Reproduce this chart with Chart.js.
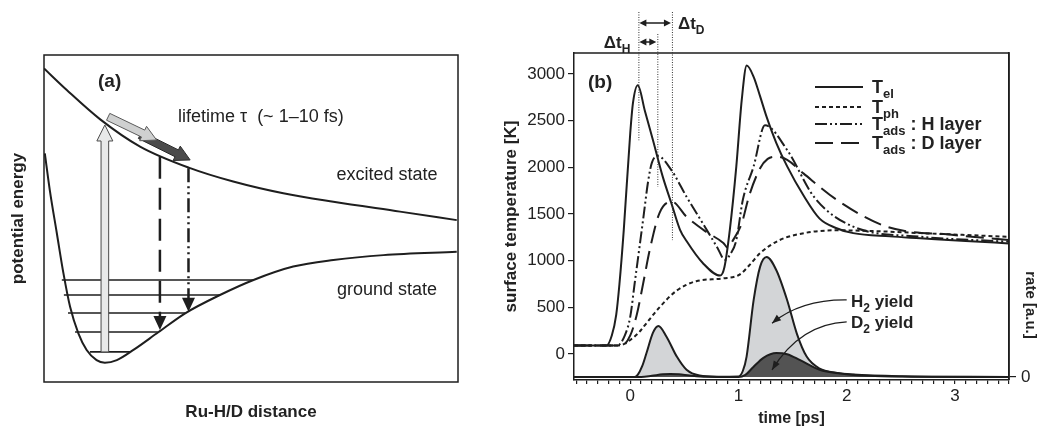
<!DOCTYPE html>
<html>
<head>
<meta charset="utf-8">
<script src="https://cdn.jsdelivr.net/npm/chart.js@4.4.0/dist/chart.umd.min.js"></script>
<style>
  html, body { margin: 0; padding: 0; background: #fff; }
  #wrap { position: relative; width: 1039px; height: 428px; overflow: hidden; }
  #pa { position: absolute; left: 0; top: 0; }
  #pb { position: absolute; left: 490px; top: 0; }
</style>
</head>
<body>
<div id="wrap">
  <canvas id="pa" width="490" height="428"></canvas>
  <canvas id="pb" width="549" height="428"></canvas>
</div>
<script>
const FONT = '"Liberation Sans", Arial, Helvetica, sans-serif';
const INK = '#1e1e1e';

// ---------- panel (a): potential energy schematic (arbitrary 0..100 units) ----------
const excitedX = [0, 5.5, 13.5, 23.2, 35.3, 45.7, 57.8, 69.9, 86.0, 99.7];
const excitedY = [95.9, 89.3, 80.4, 72.0, 65.4, 61.3, 57.7, 55.1, 52.1, 49.5];
const groundX = [0.2, 1.4, 3.1, 4.7, 6.3, 8.3, 10.3, 12.7, 14.7, 17.6, 21.6, 27.6, 34.1, 42.5, 50.6, 60.2, 69.9, 82.0, 99.7];
const groundY = [69.9, 58.7, 45.5, 33.2, 23.0, 14.9, 9.8, 6.7, 5.9, 6.7, 9.8, 15.2, 21.0, 26.6, 31.2, 35.3, 37.3, 38.8, 39.8];
const levelY = [31.2, 26.6, 21.1, 15.3, 9.2];
const levelLeft = [4.3, 4.8, 5.8, 7.5, 11.1];
const levelRight = [50.5, 42.5, 34.1, 27.5, 20.8];
const exciteX = 14.7, exciteFrom = 9.2, exciteTo = 78.6;
const glideGrey = [15.5, 81.1, 27.2, 74.0];
const glideDark = [23.2, 75.5, 35.3, 67.9];
const decayX = [28.0, 34.9];
const decayFrom = [68.9, 65.4];
const decayTo = [15.9, 21.5];

// ---------- panel (b): temperatures [K] and desorption rates [a.u.] vs time [ps] ----------
const tEl   = [-0.52, -0.22, -0.17, -0.13, -0.10, -0.06, 0.00, 0.025, 0.07, 0.134, 0.21, 0.30, 0.38, 0.46, 0.52, 0.67, 0.83, 0.87, 0.92, 0.98, 1.03, 1.076, 1.14, 1.20, 1.26, 1.35, 1.45, 1.60, 1.75, 1.90, 2.06, 2.40, 2.68, 3.10, 3.50];
const tempEl = [90, 90, 200, 420, 750, 1330, 2370, 2690, 2880, 2610, 2290, 1900, 1615, 1330, 1210, 975, 840, 930, 1330, 2010, 2720, 3090, 2970, 2760, 2540, 2260, 2010, 1700, 1450, 1350, 1295, 1260, 1240, 1210, 1185];
const tPh   = [-0.52, -0.12, -0.05, 0.00, 0.08, 0.15, 0.27, 0.43, 0.61, 0.86, 1.01, 1.10, 1.20, 1.38, 1.63, 1.91, 2.30, 2.68, 3.10, 3.50];
const tempPh = [90, 90, 110, 150, 230, 330, 500, 680, 780, 810, 850, 950, 1080, 1220, 1300, 1325, 1315, 1295, 1275, 1255];
const tH    = [-0.52, -0.12, -0.05, 0.00, 0.04, 0.08, 0.12, 0.165, 0.20, 0.255, 0.38, 0.52, 0.67, 0.80, 0.875, 0.93, 0.98, 1.04, 1.14, 1.245, 1.45, 1.70, 2.06, 2.68, 3.50];
const tempH = [90, 90, 200, 400, 750, 1100, 1450, 1850, 2050, 2120, 1970, 1685, 1400, 1150, 1010, 1080, 1220, 1650, 2010, 2450, 2185, 1680, 1364, 1257, 1203];
const tD    = [-0.52, -0.08, 0.00, 0.06, 0.12, 0.18, 0.27, 0.385, 0.52, 0.70, 0.86, 0.90, 0.95, 1.03, 1.10, 1.20, 1.27, 1.35, 1.45, 1.60, 1.91, 2.37, 2.99, 3.50];
const tempD = [90, 90, 200, 420, 760, 1115, 1510, 1632, 1470, 1310, 1190, 1140, 1220, 1400, 1700, 1990, 2090, 2114, 2080, 1935, 1650, 1364, 1275, 1220];
const tH2   = [-0.52, 0.04, 0.07, 0.11, 0.15, 0.21, 0.26, 0.335, 0.43, 0.52, 0.64, 0.80, 1.00, 1.04, 1.075, 1.14, 1.20, 1.26, 1.35, 1.45, 1.54, 1.63, 1.75, 1.90, 2.06, 2.50, 3.50];
const rateH2 = [0, 0, 0.02, 0.09, 0.2, 0.37, 0.425, 0.336, 0.17, 0.06, 0.012, 0.003, 0.005, 0.05, 0.17, 0.64, 0.92, 1.0, 0.89, 0.64, 0.36, 0.17, 0.07, 0.035, 0.02, 0.006, 0];
const tD2   = [-0.52, 0.10, 0.20, 0.30, 0.37, 0.45, 0.55, 0.70, 1.00, 1.06, 1.14, 1.23, 1.35, 1.45, 1.57, 1.75, 1.94, 2.20, 2.60, 3.50];
const rateD2 = [0, 0, 0.01, 0.022, 0.025, 0.022, 0.012, 0.002, 0, 0.015, 0.086, 0.16, 0.2, 0.19, 0.14, 0.06, 0.03, 0.01, 0.003, 0];
const tempTicks = [0, 500, 1000, 1500, 2000, 2500, 3000];
const timeLabels = [0, 1, 2, 3];
const peakTimes = [0.075, 0.25, 0.385];      // maxima of T_el, T_ads(H), T_ads(D)
const peakLineEnds = [2290, 1790, 1220];     // lower ends of the dotted markers [K]
const legendSubs = ['el', 'ph', 'ads', 'ads'];
const legendRest = ['', '', ' : H layer', ' : D layer'];
const yieldNames = ['H', 'D'];
const yieldLabelAt = [[2.04, 568], [2.04, 343]];               // [t, K]
const yieldArrows = [[2.0, 579, 1.58, 585, 1.31, 330],          // from, control, to
                     [2.0, 343, 1.57, 320, 1.31, -171]];

function xy(xs, ys) { return xs.map((v, i) => ({ x: v, y: ys[i] })); }

function blockArrow(ctx, x0, y0, x1, y1, w, hw, hl, fill, stroke) {
  const dx = x1 - x0, dy = y1 - y0, L = Math.hypot(dx, dy);
  const ux = dx / L, uy = dy / L, nx = -uy, ny = ux;
  const bx = x1 - ux * hl, by = y1 - uy * hl;
  ctx.beginPath();
  ctx.moveTo(x0 + nx * w, y0 + ny * w);
  ctx.lineTo(bx + nx * w, by + ny * w);
  ctx.lineTo(bx + nx * hw, by + ny * hw);
  ctx.lineTo(x1, y1);
  ctx.lineTo(bx - nx * hw, by - ny * hw);
  ctx.lineTo(bx - nx * w, by - ny * w);
  ctx.lineTo(x0 - nx * w, y0 - ny * w);
  ctx.closePath();
  ctx.fillStyle = fill; ctx.fill();
  ctx.strokeStyle = stroke; ctx.lineWidth = 1; ctx.stroke();
}

function head(ctx, x1, y1, ux, uy, hw, hl) {
  const bx = x1 - ux * hl, by = y1 - uy * hl;
  ctx.beginPath();
  ctx.moveTo(x1, y1);
  ctx.lineTo(bx - uy * hw, by + ux * hw);
  ctx.lineTo(bx + uy * hw, by - ux * hw);
  ctx.closePath();
  ctx.fill();
}

function subText(ctx, x, y, main, sub, rest, big, small) {
  ctx.textAlign = 'left';
  ctx.textBaseline = 'alphabetic';
  ctx.font = 'bold ' + big + 'px ' + FONT;
  ctx.fillText(main, x, y);
  x += ctx.measureText(main).width;
  ctx.font = 'bold ' + small + 'px ' + FONT;
  ctx.fillText(sub, x, y + big * 0.27);
  x += ctx.measureText(sub).width;
  if (rest) {
    ctx.font = 'bold ' + big + 'px ' + FONT;
    ctx.fillText(rest, x, y);
    x += ctx.measureText(rest).width;
  }
  return x;
}

// ---------- panel (a) ----------
const panelAExtras = {
  id: 'panelAExtras',
  afterDatasetsDraw(chart) {
    const { ctx, chartArea: a, scales: { x, y } } = chart;
    const px = v => x.getPixelForValue(v), py = v => y.getPixelForValue(v);
    ctx.save();
    ctx.strokeStyle = INK;
    ctx.lineWidth = 1.5;
    ctx.strokeRect(a.left, a.top, a.right - a.left, a.bottom - a.top);

    // vertical excitation
    blockArrow(ctx, px(exciteX), py(exciteFrom), px(exciteX), py(exciteTo), 3.8, 8, 16, '#e8e9e9', '#4a4a4a');
    // motion on the excited state
    blockArrow(ctx, px(glideDark[0]), py(glideDark[1]), px(glideDark[2]), py(glideDark[3]), 3.8, 8, 15, '#4b4b4b', '#2a2a2a');
    blockArrow(ctx, px(glideGrey[0]), py(glideGrey[1]), px(glideGrey[2]), py(glideGrey[3]), 3.8, 8, 15, '#cfd0d0', '#5a5a5a');

    // de-excitation (dashed = D, dash-dot-dot = H)
    const dashes = [[22, 9], [14, 4, 2, 4, 2, 4]];
    ctx.strokeStyle = INK;
    ctx.fillStyle = INK;
    ctx.lineWidth = 2.5;
    decayX.forEach((dx, i) => {
      const xx = px(dx), y0 = py(decayFrom[i]), y1 = py(decayTo[i]);
      ctx.setLineDash(dashes[i]);
      ctx.beginPath();
      ctx.moveTo(xx, y0);
      ctx.lineTo(xx, y1 - 12);
      ctx.stroke();
      ctx.setLineDash([]);
      head(ctx, xx, y1, 0, 1, 6.5, 14);
    });

    // labels
    ctx.fillStyle = '#222';
    ctx.textBaseline = 'middle';
    ctx.textAlign = 'left';
    ctx.font = 'bold 19px ' + FONT;
    ctx.fillText('(a)', a.left + 54, a.top + 27);
    ctx.font = '18px ' + FONT;
    ctx.fillText('lifetime \u03c4  (~ 1\u201310 fs)', a.left + 134, a.top + 62);
    ctx.textAlign = 'center';
    ctx.fillText('excited state', a.left + 343, a.top + 120);
    ctx.fillText('ground state', a.left + 343, a.top + 235);
    ctx.restore();
  }
};

const levelSets = levelY.map((lv, i) => ({
  data: [{ x: levelLeft[i], y: lv }, { x: levelRight[i], y: lv }],
  borderColor: INK, borderWidth: 1.6, pointRadius: 0, tension: 0
}));

new Chart(document.getElementById('pa'), {
  type: 'line',
  data: {
    datasets: [
      { data: xy(excitedX, excitedY), borderColor: INK, borderWidth: 2, pointRadius: 0, cubicInterpolationMode: 'monotone' },
      { data: xy(groundX, groundY), borderColor: INK, borderWidth: 2, pointRadius: 0, cubicInterpolationMode: 'monotone' },
      ...levelSets
    ]
  },
  options: {
    responsive: false,
    animation: false,
    devicePixelRatio: 1,
    layout: { padding: { top: 55, right: 32, left: 0, bottom: 0 } },
    plugins: { legend: { display: false }, tooltip: { enabled: false } },
    scales: {
      x: {
        type: 'linear', min: 0, max: 100,
        afterFit(s) { s.height = 46; },
        ticks: { display: false }, grid: { display: false }, border: { display: false },
        title: { display: true, text: 'Ru-H/D distance', color: '#222', font: { family: FONT, size: 17, weight: 'bold' }, padding: { top: 0, bottom: 5 } }
      },
      y: {
        min: 0, max: 100,
        afterFit(s) { s.width = 44; },
        ticks: { display: false }, grid: { display: false }, border: { display: false },
        title: { display: true, text: 'potential energy', color: '#222', font: { family: FONT, size: 17, weight: 'bold' }, padding: { top: 8, bottom: 0 } }
      }
    }
  },
  plugins: [panelAExtras]
});

// ---------- panel (b) ----------
const panelBExtras = {
  id: 'panelBExtras',
  afterDraw(chart) {
    const { ctx, chartArea: a, scales: { x, y } } = chart;
    const px = v => x.getPixelForValue(v), py = v => y.getPixelForValue(v);
    ctx.save();
    ctx.strokeStyle = INK;
    ctx.lineWidth = 1.5;
    ctx.beginPath();
    ctx.moveTo(a.left, a.top);
    ctx.lineTo(a.right, a.top);
    ctx.lineTo(a.right, a.bottom);
    ctx.stroke();

    ctx.fillStyle = '#222';
    ctx.font = 'bold 19px ' + FONT;
    ctx.textBaseline = 'middle';
    ctx.textAlign = 'left';
    ctx.fillText('(b)', a.left + 14, a.top + 30);

    // legend
    const dashes = [[], [4, 3], [12, 3, 2, 3, 2, 3], [18, 8]];
    const rows = [34, 54, 71, 90];
    rows.forEach((r, i) => {
      ctx.setLineDash(dashes[i]);
      ctx.lineWidth = 2;
      ctx.beginPath();
      ctx.moveTo(a.left + 241, a.top + r);
      ctx.lineTo(a.left + 289, a.top + r);
      ctx.stroke();
      ctx.setLineDash([]);
      subText(ctx, a.left + 298, a.top + r + 6, 'T', legendSubs[i], legendRest[i], 18, 13);
    });

    // yield labels with curved pointers
    yieldNames.forEach((nm, i) => {
      subText(ctx, px(yieldLabelAt[i][0]), py(yieldLabelAt[i][1]) + 6, nm, '2', ' yield', 17, 12);
      const q = yieldArrows[i];
      const x0 = px(q[0]), y0 = py(q[1]), cx = px(q[2]), cy = py(q[3]), x1 = px(q[4]), y1 = py(q[5]);
      ctx.lineWidth = 1.2;
      ctx.beginPath();
      ctx.moveTo(x0, y0);
      ctx.quadraticCurveTo(cx, cy, x1, y1);
      ctx.stroke();
      const L = Math.hypot(x1 - cx, y1 - cy);
      ctx.fillStyle = INK;
      head(ctx, x1, y1, (x1 - cx) / L, (y1 - cy) / L, 3.5, 9);
      ctx.fillStyle = '#222';
    });

    // peak markers and delays
    const tops = [a.top - 41, a.top - 19, a.top - 41];
    ctx.strokeStyle = '#333';
    ctx.lineWidth = 1;
    ctx.setLineDash([1, 1.5]);
    peakTimes.forEach((t, i) => {
      ctx.beginPath();
      ctx.moveTo(px(t) + 0.5, tops[i]);
      ctx.lineTo(px(t) + 0.5, py(peakLineEnds[i]));
      ctx.stroke();
    });
    ctx.setLineDash([]);
    ctx.strokeStyle = INK;
    ctx.fillStyle = INK;
    ctx.lineWidth = 1.5;
    const dbl = (xa, xb, yy) => {
      ctx.beginPath();
      ctx.moveTo(xa + 5, yy);
      ctx.lineTo(xb - 5, yy);
      ctx.stroke();
      head(ctx, xa + 1, yy, -1, 0, 3.5, 7);
      head(ctx, xb - 1, yy, 1, 0, 3.5, 7);
    };
    dbl(px(peakTimes[0]), px(peakTimes[2]), a.top - 30);
    dbl(px(peakTimes[0]), px(peakTimes[1]), a.top - 11);
    ctx.fillStyle = '#222';
    subText(ctx, px(peakTimes[2]) + 6, a.top - 24, '\u0394t', 'D', '', 17, 12);
    ctx.font = 'bold 17px ' + FONT;
    const wH = ctx.measureText('\u0394t').width;
    ctx.font = 'bold 12px ' + FONT;
    const wS = ctx.measureText('H').width;
    subText(ctx, px(peakTimes[0]) - 8 - wH - wS, a.top - 5, '\u0394t', 'H', '', 17, 12);

    // right axis title
    ctx.save();
    ctx.translate(a.right + 21, a.bottom - 75);
    ctx.rotate(Math.PI / 2);
    ctx.font = 'bold 15px ' + FONT;
    ctx.textAlign = 'center';
    ctx.textBaseline = 'middle';
    ctx.fillText('rate [a.u.]', 0, 0);
    ctx.restore();
    ctx.restore();
  }
};

const tickFont = { family: FONT, size: 17 };
const minorTimes = Array.from({ length: 41 }, (_, k) => (k - 5) / 10);

new Chart(document.getElementById('pb'), {
  type: 'line',
  data: {
    datasets: [
      { label: 'T_el', data: xy(tEl, tempEl), borderColor: INK, borderWidth: 2, pointRadius: 0, cubicInterpolationMode: 'monotone' },
      { label: 'T_ph', data: xy(tPh, tempPh), borderColor: INK, borderWidth: 2, borderDash: [4, 3], pointRadius: 0, cubicInterpolationMode: 'monotone' },
      { label: 'T_ads H', data: xy(tH, tempH), borderColor: INK, borderWidth: 2, borderDash: [12, 3, 2, 3, 2, 3], pointRadius: 0, cubicInterpolationMode: 'monotone' },
      { label: 'T_ads D', data: xy(tD, tempD), borderColor: INK, borderWidth: 2, borderDash: [18, 8], pointRadius: 0, cubicInterpolationMode: 'monotone' },
      { label: 'D2 yield', data: xy(tD2, rateD2), yAxisID: 'y2', borderColor: INK, borderWidth: 2, backgroundColor: '#535353', fill: 'origin', pointRadius: 0, cubicInterpolationMode: 'monotone' },
      { label: 'H2 yield', data: xy(tH2, rateH2), yAxisID: 'y2', borderColor: INK, borderWidth: 2, backgroundColor: '#d3d5d7', fill: 'origin', pointRadius: 0, cubicInterpolationMode: 'monotone' }
    ]
  },
  options: {
    responsive: false,
    animation: false,
    devicePixelRatio: 1,
    layout: { padding: { top: 53, right: 0, left: 0, bottom: 0 } },
    plugins: { legend: { display: false }, tooltip: { enabled: false } },
    scales: {
      x: {
        type: 'linear', min: -0.52, max: 3.5,
        afterFit(s) { s.height = 48; },
        afterBuildTicks(s) { s.ticks = minorTimes.map(v => ({ value: v })); },
        ticks: {
          autoSkip: false, maxRotation: 0, color: '#222', font: tickFont, padding: 2,
          callback: v => timeLabels.includes(Math.round(v * 10) / 10) ? String(Math.round(v)) : ''
        },
        grid: { drawOnChartArea: false, drawTicks: true, tickLength: 4, color: INK, lineWidth: 1.2 },
        border: { display: true, color: INK, width: 1.5 },
        title: { display: true, text: 'time [ps]', color: '#222', font: { family: FONT, size: 16, weight: 'bold' }, padding: { top: 0, bottom: 0 } }
      },
      y: {
        position: 'left', min: -279, max: 3225,
        afterFit(s) { s.width = 84; },
        afterBuildTicks(s) { s.ticks = tempTicks.map(v => ({ value: v })); },
        ticks: { color: '#222', font: tickFont, padding: 3, callback: v => String(v) },
        grid: { drawOnChartArea: false, drawTicks: true, tickLength: 6, color: INK, lineWidth: 1.2 },
        border: { display: true, color: INK, width: 1.5 },
        title: { display: true, text: 'surface temperature [K]', color: '#222', font: { family: FONT, size: 17, weight: 'bold' }, padding: { top: 11, bottom: 0 } }
      },
      y2: {
        position: 'right', min: -0.025, max: 2.7,
        afterFit(s) { s.width = 30; },
        afterBuildTicks(s) { s.ticks = [{ value: 0 }]; },
        ticks: { color: '#222', font: tickFont, padding: 5, callback: v => String(v) },
        grid: { drawOnChartArea: false, drawTicks: true, tickLength: 7, color: INK, lineWidth: 1.2 },
        border: { display: true, color: INK, width: 1.5 }
      }
    }
  },
  plugins: [panelBExtras]
});
</script>
</body>
</html>
